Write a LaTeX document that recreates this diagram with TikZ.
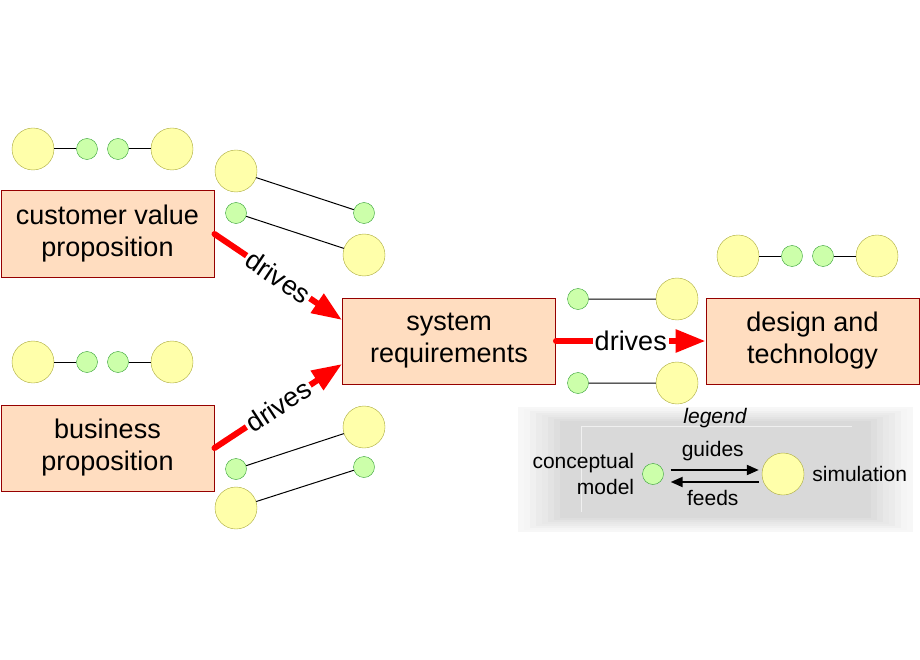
\documentclass[tikz,border=0pt]{standalone}
\usepackage{fontspec}
\setmainfont{Liberation Sans}
\usetikzlibrary{arrows.meta,positioning}
\definecolor{boxfill}{RGB}{255,221,192}
\definecolor{boxline}{RGB}{150,0,0}
\definecolor{simfill}{RGB}{255,255,170}
\definecolor{simline}{RGB}{170,170,60}
\definecolor{cmfill}{RGB}{204,255,170}
\definecolor{cmline}{RGB}{50,160,50}
\definecolor{drivered}{RGB}{255,0,0}
\tikzset{
    prop/.style={draw=boxline, fill=boxfill, line width=1pt, minimum width=213pt,
        minimum height=86pt, inner sep=0pt, align=center, font=\fontsize{27}{32}\selectfont},
    simnode/.style={circle, draw=simline, fill=simfill, minimum size=42pt, inner sep=0pt},
    cmnode/.style={circle, draw=cmline, fill=cmfill, minimum size=21pt, inner sep=0pt},
    link/.style={draw=black, line width=1pt},
    drivearrow/.style={draw=drivered, line width=6pt, line cap=round,
        -{Triangle[length=30pt,width=22pt]}},
    drivelabel/.style={fill=white, inner sep=2pt, sloped, font=\fontsize{27}{30}\selectfont},
    legarrow/.style={line width=2pt, -{Triangle[length=12pt,width=10pt]}},
    legtext/.style={inner sep=0pt, font=\fontsize{21}{26}\selectfont}
}
\begin{document}
\begin{tikzpicture}[x=1pt,y=-1pt]
    \useasboundingbox (0,0) rectangle (920,660);
    % legend backdrop
    \foreach \i in {0,...,7}
    {
        \pgfmathparse{int(3+\i*12/7)}
        \edef\shade{\pgfmathresult}
        \path[fill=black!\shade] (518+\i*6,407+\i*2) rectangle (913-\i*6,532-\i*2);
    }
    \draw[black!6, line width=1pt] (581,512) -- (581,426) -- (852,426);

    % boxes
    \node[prop] (cvp) at (107.5,234) {customer value\\proposition};
    \node[prop] (bp) at (107.5,448) {business\\proposition};
    \node[prop] (sr) at (449,341) {system\\requirements};
    \node[prop] (dt) at (812.5,341) {design and\\technology};

    % rows of circles
    \foreach \x/\y/\n in {0/149/a,0/362/b,705/256/c}
    {
        \node[simnode] (\n1) at (\x+33,\y) {};
        \node[cmnode] (\n2) at (\x+87,\y) {};
        \node[cmnode] (\n3) at (\x+118,\y) {};
        \node[simnode] (\n4) at (\x+172,\y) {};
        \draw[link] (\n1) -- (\n2) (\n3) -- (\n4);
    }

    % pairs
    \node[simnode] (p1) at (236,171) {};
    \node[cmnode] (p2) at (364,213) {};
    \node[cmnode] (p3) at (236,213) {};
    \node[simnode] (p4) at (364,255) {};
    \node[cmnode] (q1) at (236,469) {};
    \node[simnode] (q2) at (364,427) {};
    \node[simnode] (q3) at (236,508) {};
    \node[cmnode] (q4) at (364,467) {};
    \node[cmnode] (r1) at (578,299) {};
    \node[simnode] (r2) at (677,299) {};
    \node[cmnode] (r3) at (578,383) {};
    \node[simnode] (r4) at (677,383) {};
    \draw[link] (p1) -- (p2) (p3) -- (p4) (q1) -- (q2) (q3) -- (q4) (r1) -- (r2) (r3) -- (r4);

    % drives
    \draw[drivearrow] (cvp.east) -- node[drivelabel] (d1) {drives} ([yshift=21pt]sr.west);
    \draw[drivearrow] (bp.east) -- node[drivelabel] (d2) {drives} ([yshift=-23pt]sr.west);
    \draw[drivearrow] (sr.east) -- node[drivelabel] (d3) {drives} (dt.west);

    % legend
    \node[legtext, font=\fontsize{21}{26}\selectfont\itshape] (leg) at (715,418) {legend};
    \node[cmnode] (lcm) at (653,474) {};
    \node[simnode] (lsim) at (783,474) {};
    \node[legtext, align=right, left=8pt of lcm] (lcmtext) {conceptual\\model};
    \node[legtext, right=8pt of lsim] (lsimtext) {simulation};
    \draw[legarrow, shorten <=7pt, shorten >=3pt] ([yshift=4pt]lcm.east)
        -- node[legtext, above=8pt] (lguides) {guides} ([yshift=4pt]lsim.west);
    \draw[legarrow, shorten <=3pt, shorten >=7pt] ([yshift=-8pt]lsim.west)
        -- node[legtext, below=7pt] (lfeeds) {feeds} ([yshift=-8pt]lcm.east);
\end{tikzpicture}
\end{document}
